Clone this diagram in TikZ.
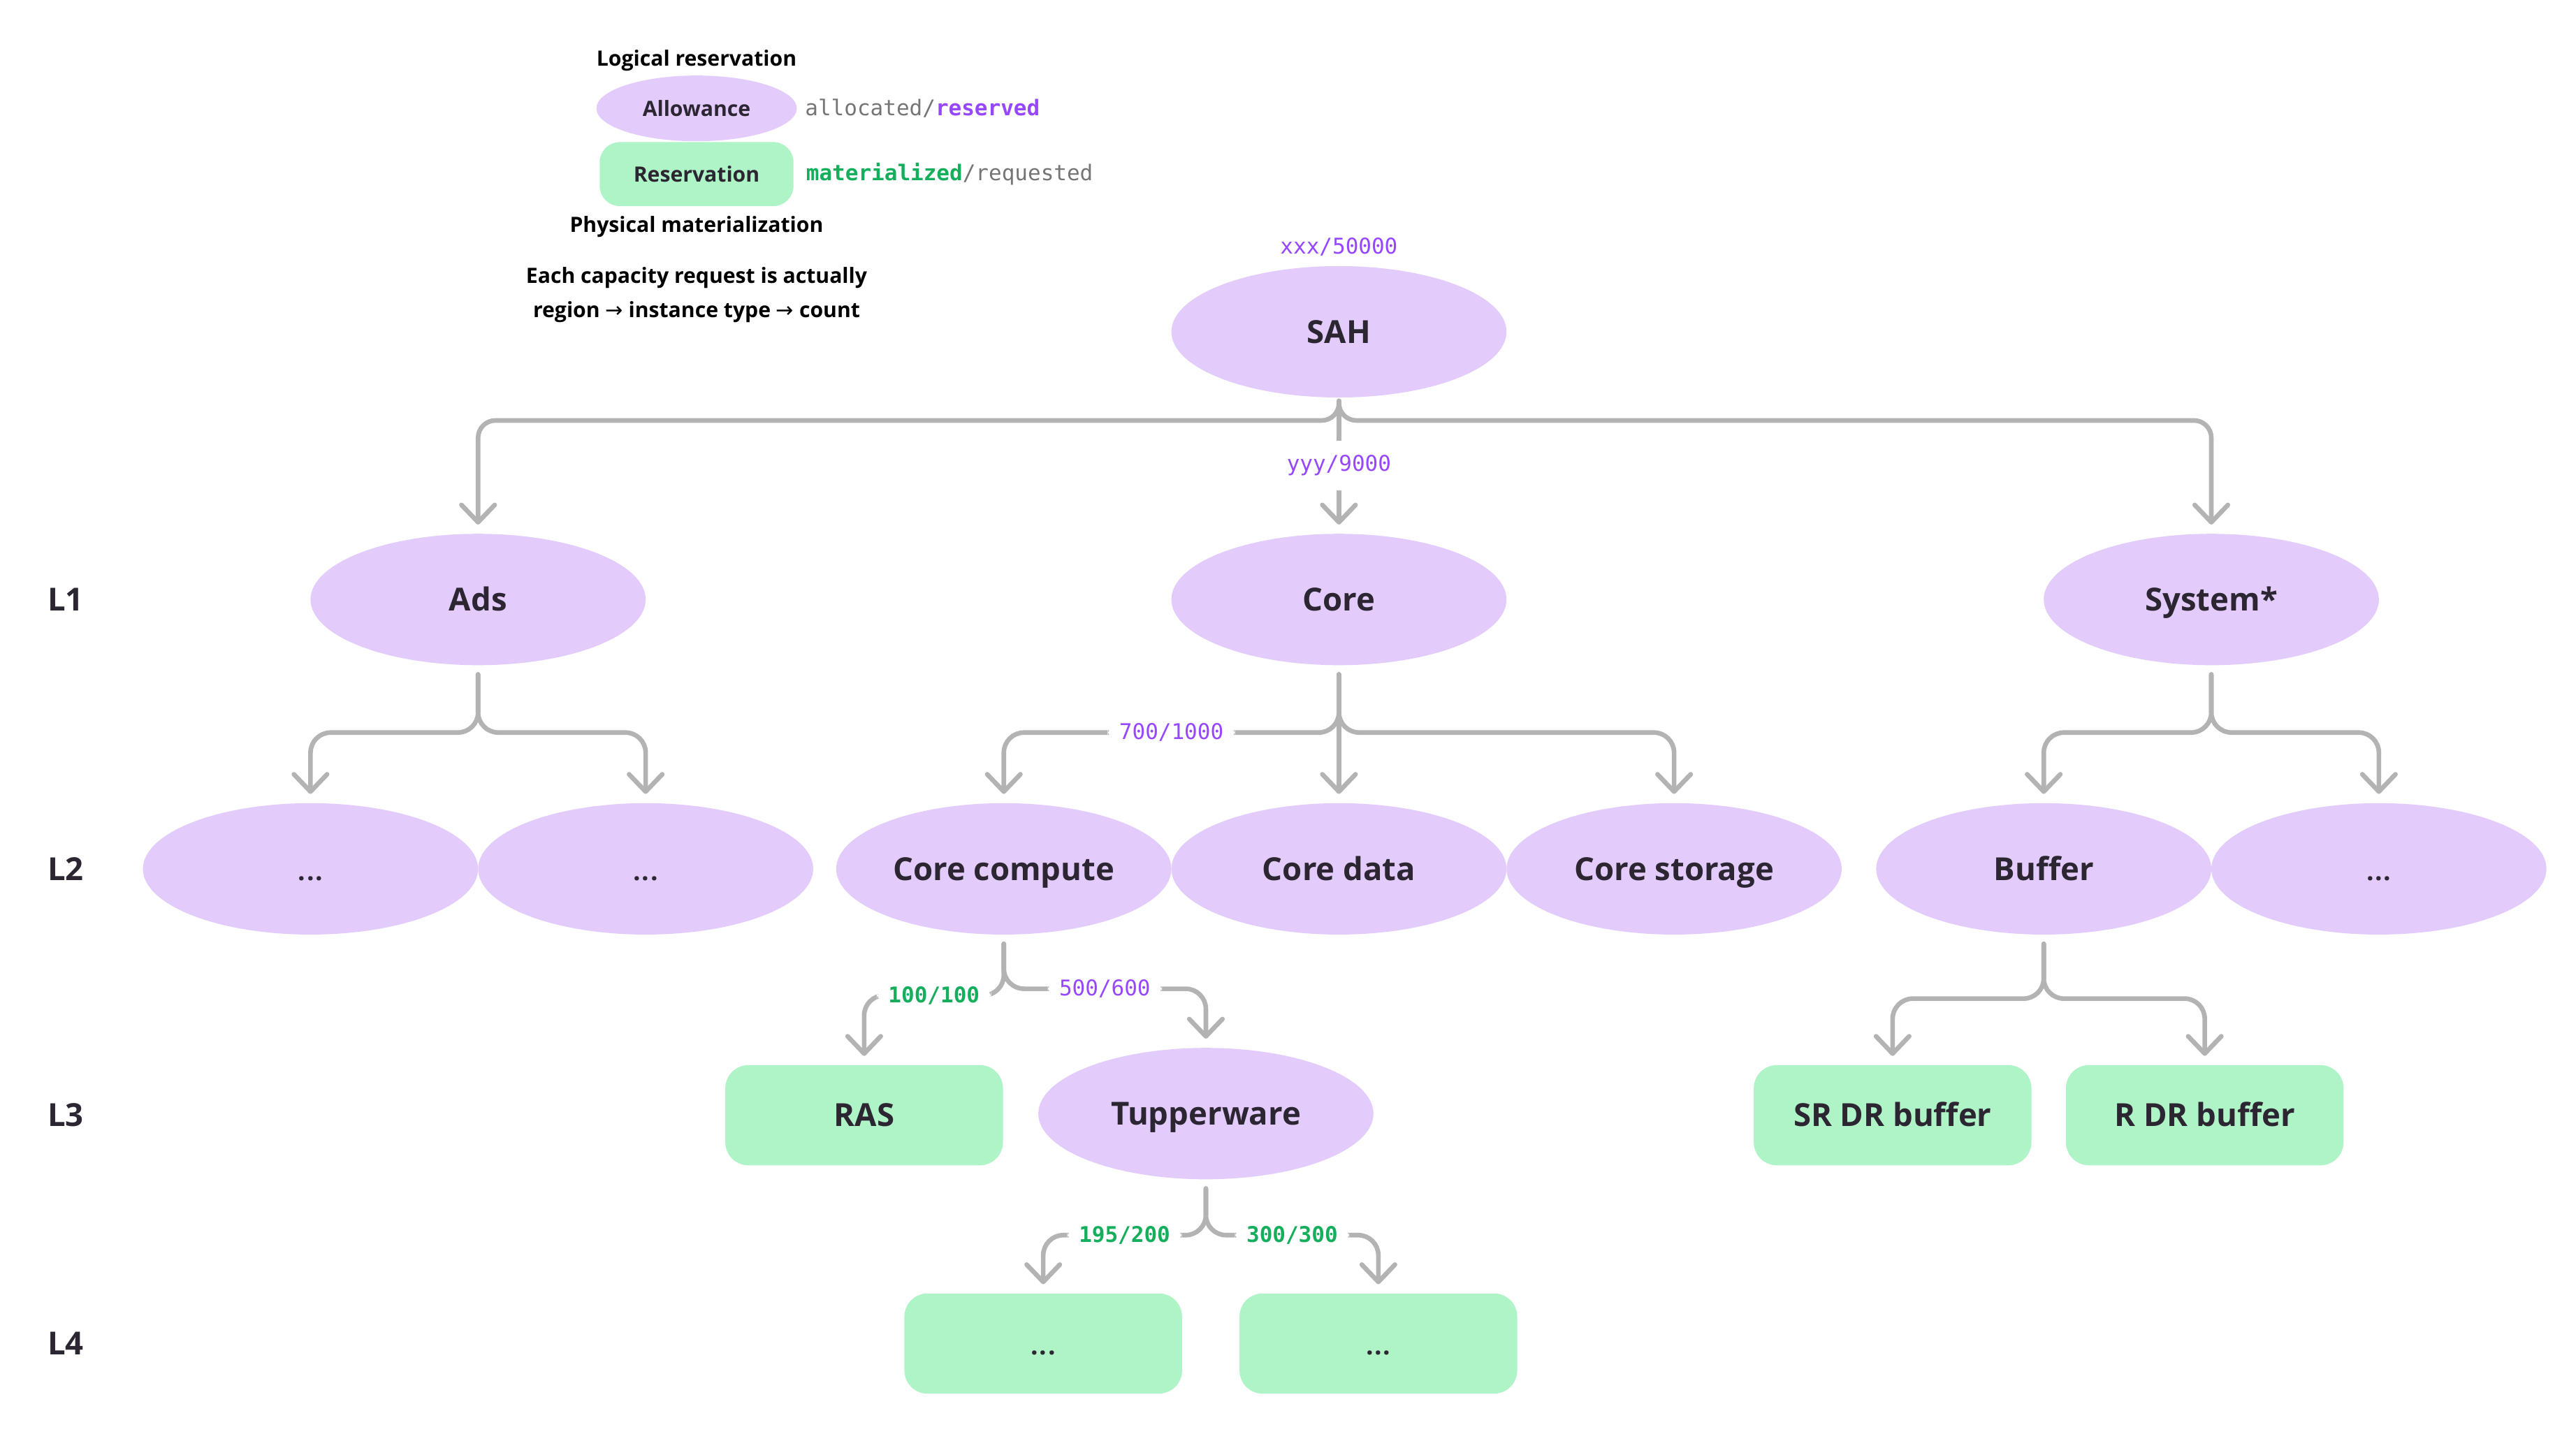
\documentclass[tikz,border=0pt]{standalone}
\usepackage{fontspec}
\setmainfont{Open Sans}
\newfontfamily\capmono{DejaVu Sans Mono}
\newfontfamily\capsym{DejaVu Sans}
\usetikzlibrary{arrows.meta,positioning,shapes.geometric}
\definecolor{allowfill}{HTML}{E3CCFC}
\definecolor{resvfill}{HTML}{AFF4C6}
\definecolor{conngrey}{HTML}{B3B3B3}
\definecolor{labpurple}{HTML}{9747FF}
\definecolor{labgreen}{HTML}{14AE5C}
\definecolor{labgrey}{HTML}{757575}
\definecolor{inkdark}{HTML}{2C2632}
\newcommand{\nodesize}{\fontsize{11}{13}\selectfont\bfseries}
\newcommand{\legsize}{\fontsize{7.3}{12}\selectfont\bfseries}
\newcommand{\monosize}{\fontsize{7.5}{9}\selectfont\capmono}
\newcommand{\dotsize}{\fontsize{9}{11}\selectfont\bfseries}
\newcommand{\tdots}{.\kern0.4pt.\kern0.4pt.}
\tikzset{
  allow/.style={ellipse,fill=allowfill,minimum width=4.08cm,minimum height=1.6cm,
                inner sep=0pt,text=inkdark,font=\nodesize,text height=7.9pt,text depth=0pt},
  resv/.style={rectangle,rounded corners=8pt,fill=resvfill,minimum width=3.38cm,
               minimum height=1.22cm,inner sep=0pt,text=inkdark,font=\nodesize,
               text height=7.9pt,text depth=0pt},
  legallow/.style={allow,minimum width=2.44cm,minimum height=0.8cm,font=\legsize,
                   text height=5.3pt,text depth=0pt},
  legresv/.style={resv,rounded corners=7pt,minimum width=2.36cm,minimum height=0.78cm,font=\legsize,
                  text height=5.3pt,text depth=0pt},
  legtxt/.style={text=black,font=\legsize,align=center,inner sep=1pt},
  legmono/.style={font=\monosize,inner sep=1pt,anchor=west},
  lvl/.style={text=inkdark,font=\nodesize},
  conn/.style={draw=conngrey,line width=1.6pt,rounded corners=7pt,line cap=round,line join=round,
               shorten <=3pt,shorten >=3pt,
               -{Straight Barb[length=6pt,width=11.5pt,line cap=round,line join=round]}},
  top/.style={conn,rounded corners=6pt,shorten <=1pt},
  plbl/.style={font=\monosize,text=labpurple,fill=white,inner xsep=4pt,inner ysep=2pt},
  glbl/.style={font=\monosize\bfseries,text=labgreen,fill=white,inner xsep=4pt,inner ysep=2pt},
}

\begin{document}
\begin{tikzpicture}
    \useasboundingbox (0,0) rectangle (31.36,17.54);
    % legend
    \node[legallow] (legA) at (8.48,16.22) {Allowance};
    \node[legresv]  (legR) at (8.48,15.42) {Reservation};
    \node[legtxt] (legtop) at (8.48,16.80) {Logical reservation};
    \node[legtxt] (legbot) at (8.48,14.78) {Physical materialization};
    \node[legtxt] (legnote) at (8.48,13.95) {Each capacity request is actually\\region {\capsym\mdseries→} instance type {\capsym\mdseries→} count};
    \node[legmono,right=1.5pt of legA] (legAt) {{\color{labgrey}allocated/}{\color{labpurple}\bfseries reserved}};
    \node[legmono,right=3pt of legR] (legRt) {{\color{labgreen}\bfseries materialized}{\color{labgrey}/requested}};
    % levels
    \node[lvl] (lv1) at (0.80,10.24) {L1};
    \node[lvl] (lv2) at (0.80,6.96)  {L2};
    \node[lvl] (lv3) at (0.80,3.96)  {L3};
    \node[lvl] (lv4) at (0.80,1.18)  {L4};
    % tree
    \node[allow] (sah)  at (16.30,13.50) {SAH};
    \node[plbl,above=1pt of sah] (sahq) {xxx/50000};
    \node[allow] (ads)  at (5.82,10.24)  {Ads};
    \node[allow] (core) at (16.30,10.24) {Core};
    \node[allow] (sys)  at (26.92,10.24) {System*};
    \node[allow,font=\dotsize] (adsa) at (3.78,6.96) {\tdots};
    \node[allow,font=\dotsize] (adsb) at (7.86,6.96) {\tdots};
    \node[allow] (cc)   at (12.22,6.96) {Core compute};
    \node[allow] (cd)   at (16.30,6.96) {Core data};
    \node[allow] (cs)   at (20.38,6.96) {Core storage};
    \node[allow] (buf)  at (24.88,6.96) {Buffer};
    \node[allow,font=\dotsize] (sysb) at (28.96,6.96) {\tdots};
    \node[resv]  (ras)  at (10.52,3.96) {RAS};
    \node[allow] (tup)  at (14.68,3.98) {Tupperware};
    \node[resv]  (srdr) at (23.04,3.96) {SR DR buffer};
    \node[resv]  (rdr)  at (26.84,3.96) {R DR buffer};
    \node[resv,font=\dotsize] (tupa) at (12.70,1.18) {\tdots};
    \node[resv,font=\dotsize] (tupb) at (16.78,1.18) {\tdots};
    % branch levels
    \coordinate (b0)  at (0,12.42);
    \coordinate (b1)  at (0,8.62);
    \coordinate (b2l) at (0,5.42);
    \coordinate (b2r) at (0,5.50);
    \coordinate (b2s) at (0,5.38);
    \coordinate (b3)  at (0,2.50);
    % connectors
    \draw[top] (sah.south) |- (ads.north |- b0) -- (ads.north);
    \draw[top] (sah.south) |- (sys.north |- b0) -- (sys.north);
    \draw[top] (sah.south) -- node[plbl,inner ysep=5pt]{yyy/9000} (core.north);
    \draw[conn] (ads.south) |- (adsa.north |- b1) -- (adsa.north);
    \draw[conn] (ads.south) |- (adsb.north |- b1) -- (adsb.north);
    \draw[conn] (core.south) -- (core.south |- b1) -- node[plbl]{700/1000} (cc.north |- b1) -- (cc.north);
    \draw[conn] (core.south) -- (cd.north);
    \draw[conn] (core.south) |- (cs.north |- b1) -- (cs.north);
    \draw[conn] (sys.south) |- (buf.north |- b1) -- (buf.north);
    \draw[conn] (sys.south) |- (sysb.north |- b1) -- (sysb.north);
    \draw[conn] (cc.south) -- (cc.south |- b2l) -- node[glbl]{100/100} (ras.north |- b2l) -- (ras.north);
    \draw[conn] (cc.south) -- (cc.south |- b2r) -- node[plbl]{500/600} (tup.north |- b2r) -- (tup.north);
    \draw[conn] (buf.south) |- (srdr.north |- b2s) -- (srdr.north);
    \draw[conn] (buf.south) |- (rdr.north |- b2s) -- (rdr.north);
    \draw[conn] (tup.south) -- (tup.south |- b3) -- node[glbl]{195/200} (tupa.north |- b3) -- (tupa.north);
    \draw[conn] (tup.south) -- (tup.south |- b3) -- node[glbl]{300/300} (tupb.north |- b3) -- (tupb.north);
\end{tikzpicture}
\end{document}
